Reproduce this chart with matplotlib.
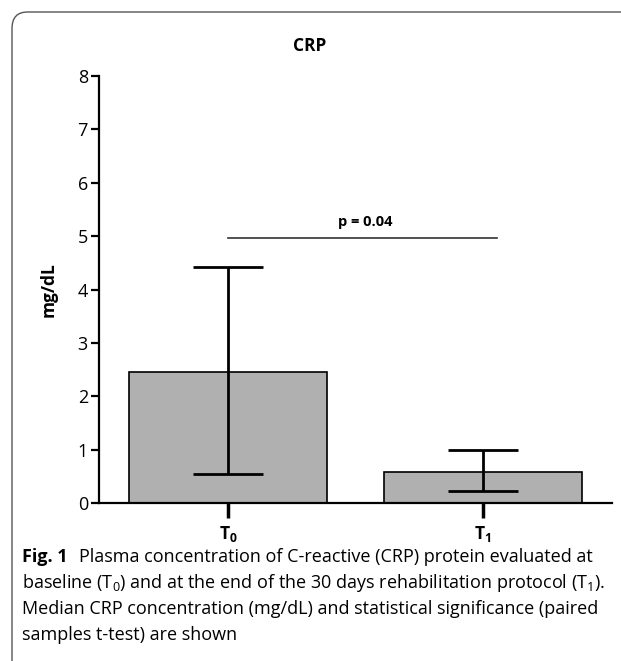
import numpy as np
import matplotlib
matplotlib.use("Agg")
import matplotlib.pyplot as plt
from matplotlib.patches import FancyBboxPatch

plt.rcParams['font.family'] = ['Open Sans', 'DejaVu Sans']
plt.rcParams['mathtext.fontset'] = 'custom'
plt.rcParams['mathtext.rm'] = 'Open Sans'
plt.rcParams['mathtext.it'] = 'Open Sans:italic'
plt.rcParams['mathtext.bf'] = 'Open Sans:bold'

groups = ["$\\mathbf{T_0}$", "$\\mathbf{T_1}$"]
median = [2.45, 0.58]
low = [0.55, 0.22]
high = [4.43, 1.0]
p_text = "p = 0.04"
p_y = 4.96

x = np.arange(len(groups))
yerr = [np.array(median) - np.array(low), np.array(high) - np.array(median)]

fig = plt.figure(figsize=(6.21, 6.61), dpi=100)
ax = fig.add_axes([0.1594, 0.239, 0.826, 0.646])

ax.bar(x, median, width=0.78, color="#b0b0b0", edgecolor="black", linewidth=1.2, zorder=2)
ax.errorbar(x, median, yerr=yerr, fmt="none", ecolor="black", elinewidth=2,
            capsize=25, capthick=2, zorder=3)

ax.plot([0.0, 1.055], [p_y, p_y], color="#333333", linewidth=1.2)
ax.text(0.54, p_y + 0.17, p_text, ha="center", va="bottom", fontsize=10.5, fontweight="bold")

ax.set_xlim(-0.506, 1.506)
ax.set_ylim(0, 8)
ax.set_yticks(range(9))
ax.set_xticks(x)
ax.set_xticklabels(groups, fontsize=12.5)
ax.tick_params(axis="y", labelsize=13, width=1.6, length=6, pad=2)
ax.tick_params(axis="x", width=2.5, length=11, pad=4)
ax.spines["top"].set_visible(False)
ax.spines["right"].set_visible(False)
ax.spines["left"].set_linewidth(1.6)
ax.spines["bottom"].set_linewidth(1.6)
ax.set_ylabel("mg/dL", fontsize=12.5, fontweight="bold", labelpad=14)
ax.set_title("CRP", fontsize=12.5, fontweight="bold", pad=18, x=0.411)

# caption
fig.text(22 / 621, 1 - 557 / 661, "Fig. 1", fontsize=13, fontweight="bold", va="center", ha="left")
caption = [
    "Plasma concentration of C-reactive (CRP) protein evaluated at",
    "baseline (T$_0$) and at the end of the 30 days rehabilitation protocol (T$_1$).",
    "Median CRP concentration (mg/dL) and statistical significance (paired",
    "samples t-test) are shown",
]
for i, line in enumerate(caption):
    x0 = 79 / 621 if i == 0 else 22 / 621
    fig.text(x0, 1 - (557 + 26 * i) / 661, line, fontsize=13, va="center", ha="left")

border = FancyBboxPatch((12 / 621, -0.05), 1.1, 1 - 12 / 661 + 0.05,
                        boxstyle="round,pad=0,rounding_size=0.025",
                        transform=fig.transFigure, fill=False,
                        edgecolor="#555555", linewidth=1.0)
fig.patches.append(border)

fig.savefig("out.png", dpi=100)
